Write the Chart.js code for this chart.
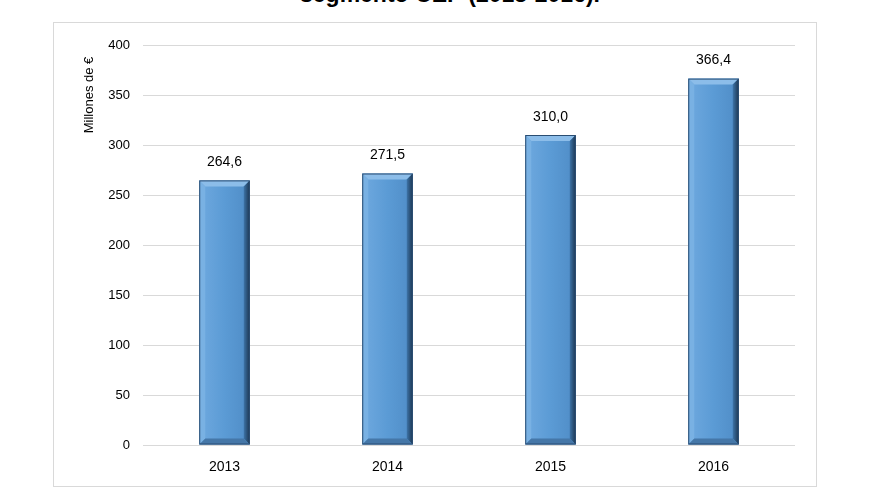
<!DOCTYPE html>
<html>
<head>
<meta charset="utf-8">
<script src="https://cdn.jsdelivr.net/npm/chart.js@4"></script>
<style>
  html, body { margin: 0; padding: 0; background: #fff; }
  body { width: 880px; height: 495px; position: relative; overflow: hidden; font-family: Arial, "Liberation Sans", sans-serif; }
  #title { position: absolute; left: 0; width: 900px; top: -17px; text-align: center; font-weight: bold; font-size: 23px; line-height: 23px; color: #000; white-space: nowrap; }
  #box { position: absolute; left: 53px; top: 22px; width: 762px; height: 463px; border: 1px solid #d9d9d9; }
  #box canvas { position: absolute; left: 0; top: 0; }
</style>
</head>
<body>
<div id="title">segmento CEP (2013-2016).</div>
<div id="box"><canvas id="chart" width="762" height="463"></canvas></div>
<script>
const years = ["2013", "2014", "2015", "2016"];
const importe = [264.6, 271.5, 310.0, 366.4];
const yTicks = [0, 50, 100, 150, 200, 250, 300, 350, 400];

// bisel de las barras y etiquetas de valor
const bevelBars = {
  id: "bevelBars",
  afterDatasetsDraw(chart) {
    const ctx = chart.ctx;
    const meta = chart.getDatasetMeta(0);
    meta.data.forEach((bar, i) => {
      const l = bar.x - bar.width / 2, r = bar.x + bar.width / 2;
      const t = bar.y, b = bar.base, k = 6;
      ctx.save();
      const g = ctx.createLinearGradient(l, 0, r, 0);
      g.addColorStop(0, "#6fa9df");
      g.addColorStop(0.5, "#5b9bd5");
      g.addColorStop(1, "#4f8cc6");
      ctx.fillStyle = g;
      ctx.fillRect(l, t, r - l, b - t);
      // arriba
      ctx.fillStyle = "#8cbde9";
      ctx.beginPath();
      ctx.moveTo(l, t); ctx.lineTo(r, t); ctx.lineTo(r - k, t + k); ctx.lineTo(l + k, t + k); ctx.closePath(); ctx.fill();
      // izquierda
      ctx.fillStyle = "#79b1e3";
      ctx.beginPath();
      ctx.moveTo(l, t); ctx.lineTo(l + k, t + k); ctx.lineTo(l + k, b - k); ctx.lineTo(l, b); ctx.closePath(); ctx.fill();
      // derecha
      const gr = ctx.createLinearGradient(r - k, 0, r, 0);
      gr.addColorStop(0, "#3d74a8");
      gr.addColorStop(1, "#1c3550");
      ctx.fillStyle = gr;
      ctx.beginPath();
      ctx.moveTo(r, t); ctx.lineTo(r, b); ctx.lineTo(r - k, b - k); ctx.lineTo(r - k, t + k); ctx.closePath(); ctx.fill();
      // abajo
      ctx.fillStyle = "#4577a8";
      ctx.beginPath();
      ctx.moveTo(l, b); ctx.lineTo(r, b); ctx.lineTo(r - k, b - k); ctx.lineTo(l + k, b - k); ctx.closePath(); ctx.fill();
      ctx.strokeStyle = "#2a4d72";
      ctx.lineWidth = 1;
      ctx.strokeRect(l + 0.5, t + 0.5, r - l - 1, b - t - 1);
      // valor
      ctx.fillStyle = "#000";
      ctx.font = "14px Arial, 'Liberation Sans'";
      ctx.textAlign = "center";
      ctx.textBaseline = "middle";
      ctx.fillText(importe[i].toFixed(1).replace(".", ","), bar.x, t - 18);
      ctx.restore();
    });
    // titulo eje y
    ctx.save();
    ctx.translate(35, 72);
    ctx.rotate(-Math.PI / 2);
    ctx.fillStyle = "#000";
    ctx.font = "13px Arial, 'Liberation Sans'";
    ctx.textAlign = "center";
    ctx.textBaseline = "middle";
    ctx.fillText("Millones de €", 0, 0);
    ctx.restore();
  }
};

new Chart(document.getElementById("chart").getContext("2d"), {
  type: "bar",
  data: {
    labels: years,
    datasets: [{
      data: importe,
      backgroundColor: "rgba(0,0,0,0)",
      categoryPercentage: 0.62,
      barPercentage: 0.5
    }]
  },
  options: {
    responsive: false,
    animation: false,
    layout: { padding: { top: 22, right: 21, left: 0, bottom: 0 } },
    plugins: { legend: { display: false }, tooltip: { enabled: false } },
    scales: {
      x: {
        grid: { display: false },
        border: { display: false },
        ticks: { color: "#000", font: { family: "Arial, 'Liberation Sans'", size: 14 }, padding: 6 },
        afterFit(s) { s.height = 41; }
      },
      y: {
        min: 0,
        max: 400,
        afterBuildTicks(s) { s.ticks = yTicks.map(v => ({ value: v })); },
        grid: { color: "#d9d9d9", drawTicks: false },
        border: { display: false },
        ticks: { color: "#000", font: { family: "Arial, 'Liberation Sans'", size: 13 }, padding: 13 },
        afterFit(s) { s.width = 89; }
      }
    }
  },
  plugins: [bevelBars]
});
</script>
</body>
</html>
